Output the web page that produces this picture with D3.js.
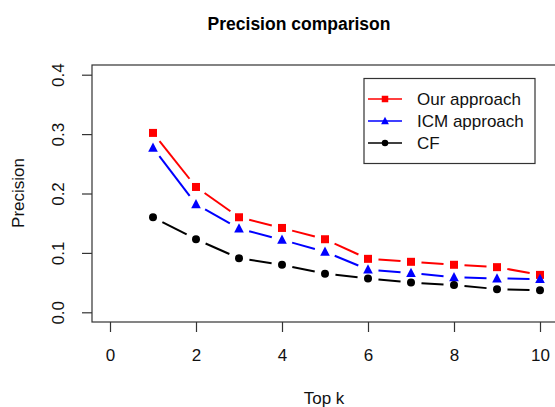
<!DOCTYPE html>
<html><head><meta charset="utf-8">
<script src="https://cdn.jsdelivr.net/npm/d3@7"></script>
<style>body{margin:0;background:#fff}svg{display:block;font-family:"Liberation Sans",Arial,sans-serif}</style>
</head><body>
<script>
const topK = [1,2,3,4,5,6,7,8,9,10];
const ourApproach = [0.302,0.211,0.160,0.142,0.123,0.090,0.085,0.080,0.076,0.063];
const icmApproach = [0.277,0.182,0.141,0.122,0.102,0.072,0.066,0.059,0.057,0.056];
const cf = [0.160,0.123,0.091,0.080,0.065,0.057,0.050,0.046,0.039,0.037];
const seriesNames = ["Our approach","ICM approach","CF"];
const xTicks = [0,2,4,6,8,10];
const yTicks = [0.0,0.1,0.2,0.3,0.4];

const W=555,H=407;
const svg=d3.select("body").append("svg").attr("width",W).attr("height",H).style("overflow","hidden");
const x=d3.scaleLinear().domain([-0.4,10.4]).range([92.8,557.2]);
const y=d3.scaleLinear().domain([-0.016,0.416]).range([321.8,65.2]);
const fs=17;

// box
svg.append("rect").attr("x",92).attr("y",65).attr("width",465).attr("height",257)
  .attr("fill","none").attr("stroke","#333").attr("stroke-width",1.2);

// x axis
const gx=svg.append("g").attr("transform","translate(0,322)")
  .call(d3.axisBottom(x).tickValues(xTicks).tickSize(10).tickPadding(17).tickFormat(d3.format("d")));
gx.select(".domain").remove();
gx.selectAll("line").attr("stroke","#333").attr("stroke-width",1.2);
gx.selectAll("text").attr("font-size",fs).attr("fill","#111").style("font-family","Liberation Sans, Arial, sans-serif");

// y axis
const gy=svg.append("g").attr("transform","translate(92,0)")
  .call(d3.axisLeft(y).tickValues(yTicks).tickSize(10).tickFormat(d3.format(".1f")));
gy.select(".domain").remove();
gy.selectAll("line").attr("stroke","#333").attr("stroke-width",1.2);
gy.selectAll("text").attr("x",0).attr("dy","0.35em").attr("text-anchor","middle")
  .attr("transform",`translate(${58-92},0) rotate(-90)`)
  .attr("font-size",fs).attr("fill","#111").style("font-family","Liberation Sans, Arial, sans-serif");

// title & labels
svg.append("text").attr("x",299).attr("y",30).attr("text-anchor","middle")
  .attr("font-size",17.5).attr("font-weight","bold").attr("fill","#000").text("Precision comparison");
svg.append("text").attr("x",324).attr("y",398).attr("dy","0.35em").attr("text-anchor","middle")
  .attr("font-size",fs).attr("fill","#111").text("Top k");
svg.append("text").attr("transform","translate(18,193) rotate(-90)").attr("dy","0.35em").attr("text-anchor","middle")
  .attr("font-size",fs).attr("fill","#111").text("Precision");

const series=[
  {name:seriesNames[0],values:ourApproach,color:"#ff0000",shape:"square"},
  {name:seriesNames[1],values:icmApproach,color:"#0000ff",shape:"triangle"},
  {name:seriesNames[2],values:cf,color:"#000000",shape:"circle"}
];
function marker(g,shape,cx,cy,color,s){
  if(shape==="square") g.append("rect").attr("x",cx-s/2).attr("y",cy-s/2).attr("width",s).attr("height",s).attr("fill",color);
  else if(shape==="circle") g.append("circle").attr("cx",cx).attr("cy",cy).attr("r",s/2).attr("fill",color);
  else { const h=s*1.1, w=s*1.2;
    g.append("path").attr("d",`M${cx},${cy-h*0.6}L${cx+w/2},${cy+h*0.45}L${cx-w/2},${cy+h*0.45}Z`).attr("fill",color); }
}
const gap=10.5;
series.forEach(sr=>{
  const g=svg.append("g");
  const pts=topK.map((k,i)=>[x(k),y(sr.values[i])]);
  for(let i=0;i<pts.length-1;i++){
    const [x1,y1]=pts[i],[x2,y2]=pts[i+1];
    const dx=x2-x1,dy=y2-y1,L=Math.hypot(dx,dy);
    if(L>2*gap){
      const ux=dx/L,uy=dy/L;
      g.append("line").attr("x1",x1+ux*gap).attr("y1",y1+uy*gap).attr("x2",x2-ux*gap).attr("y2",y2-uy*gap)
        .attr("stroke",sr.color).attr("stroke-width",2);
    }
  }
  pts.forEach(p=>marker(g,sr.shape,p[0],p[1],sr.color,8));
});

// legend
const lg=svg.append("g");
lg.append("rect").attr("x",364).attr("y",78.5).attr("width",171).attr("height",85)
  .attr("fill","#fff").attr("stroke","#333").attr("stroke-width",1.2);
const rows=[99,121,143];
series.forEach((sr,i)=>{
  lg.append("line").attr("x1",368).attr("x2",402).attr("y1",rows[i]).attr("y2",rows[i]).attr("stroke",sr.color).attr("stroke-width",1.5);
  marker(lg,sr.shape,385,rows[i],sr.color,6.5);
  lg.append("text").attr("x",417).attr("y",rows[i]).attr("dy","0.35em").attr("font-size",fs).attr("fill","#111").text(sr.name);
});
</script>
</body></html>
